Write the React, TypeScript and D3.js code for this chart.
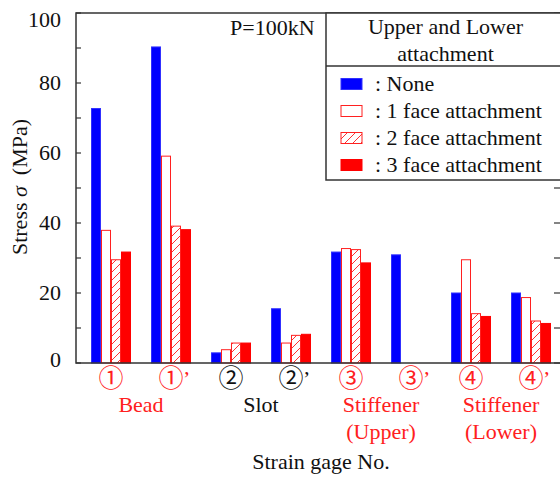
import React, { useEffect, useRef } from "react";
import * as d3 from "d3";

// strain gage positions (x axis)
const gages = ["1", "1p", "2", "2p", "3", "3p", "4", "4p"];
const gageMarks = ["①", "①", "②", "②", "③", "③", "④", "④"];
const gagePrime = [false, true, false, true, false, true, false, true];
const gageRed = [true, true, false, false, true, true, true, true];

// series values (MPa), null = not measured
const seriesNames = [": None", ": 1 face attachment", ": 2 face attachment", ": 3 face attachment"];
const noneVals = [72.7, 90.3, 2.9, 15.5, 31.7, 30.9, 20.0, 20.0];
const face1Vals = [37.9, 59.1, 3.8, 5.7, 32.7, null, 29.5, 18.7];
const face2Vals = [29.5, 39.1, 5.7, 7.9, 32.4, null, 14.1, 12.0];
const face3Vals = [31.7, 38.1, 5.7, 8.2, 28.6, null, 13.3, 11.3];

// group names under the gage numbers
const groupNames = [["Bead"], ["Slot"], ["Stiffener", "(Upper)"], ["Stiffener", "(Lower)"]];
const groupRed = [true, false, true, true];

const yTicks = [0, 20, 40, 60, 80, 100];
const yMinor = [10, 30, 50, 70, 90];

const W = 560;
const H = 478;
const FONT = "Liberation Serif";
const FS = 22;

function Chart() {
  const ref = useRef<SVGSVGElement>(null);

  useEffect(() => {
    const svg = d3.select(ref.current);
    svg.selectAll("*").remove();
    svg.style("font-family", FONT);

    const left = 76, right = 561, top = 13, bottom = 363;

    const y = d3.scaleLinear().domain([0, 100]).range([bottom, 13]);
    const x = d3.scaleBand<string>().domain(gages).range([81, 561])
      .paddingInner(1 / 3).paddingOuter(1 / 6);
    const xs = d3.scaleBand<number>().domain([0, 1, 2, 3]).range([0, x.bandwidth()]);

    // hatch pattern
    const defs = svg.append("defs");
    const pat = defs.append("pattern")
      .attr("id", "hatch")
      .attr("patternUnits", "userSpaceOnUse")
      .attr("width", 8).attr("height", 8);
    pat.append("rect").attr("width", 8).attr("height", 8).attr("fill", "white");
    pat.append("path")
      .attr("d", "M-2,2 L2,-2 M0,8 L8,0 M6,10 L10,6")
      .attr("stroke", "#ff3030").attr("stroke-width", 1);

    const styles = [
      { fill: "#0000ff", stroke: "#3030ff" },
      { fill: "#ffffff", stroke: "#ff2020" },
      { fill: "url(#hatch)", stroke: "#ff2020" },
      { fill: "#ff0000", stroke: "#ff0000" },
    ];
    const allSeries = [noneVals, face1Vals, face2Vals, face3Vals];

    // bars
    allSeries.forEach((vals, si) => {
      svg.append("g")
        .selectAll("rect")
        .data(vals.map((v, i) => ({ g: gages[i], v })).filter(d => d.v !== null))
        .enter()
        .append("rect")
        .attr("x", d => (x(d.g) as number) + (xs(si) as number) + 0.5)
        .attr("y", d => y(d.v as number))
        .attr("width", xs.bandwidth() - 1)
        .attr("height", d => bottom - y(d.v as number))
        .attr("fill", styles[si].fill)
        .attr("stroke", styles[si].stroke)
        .attr("stroke-width", 1);
    });

    // frame
    const axisColor = "#333";
    svg.append("rect")
      .attr("x", left).attr("y", top)
      .attr("width", right - left).attr("height", bottom - top)
      .attr("fill", "none").attr("stroke", axisColor).attr("stroke-width", 1.5);

    // ticks, inward on both sides
    const tickG = svg.append("g").attr("stroke", axisColor).attr("stroke-width", 1.2);
    [...yTicks, ...yMinor].forEach(t => {
      tickG.append("line").attr("x1", left).attr("x2", left + 5).attr("y1", y(t)).attr("y2", y(t));
      tickG.append("line").attr("x1", right - 7).attr("x2", right).attr("y1", y(t)).attr("y2", y(t));
    });

    svg.append("g")
      .selectAll("text")
      .data(yTicks)
      .enter()
      .append("text")
      .attr("x", 61)
      .attr("y", d => y(d) + (d === 100 ? 14 : d === 0 ? 4 : 7))
      .attr("text-anchor", "end")
      .attr("font-size", FS)
      .attr("fill", "#111")
      .text(d => d);

    // y axis title
    const yt = svg.append("text")
      .attr("transform", "translate(27,187) rotate(-90)")
      .attr("text-anchor", "middle")
      .attr("font-size", FS)
      .attr("fill", "#111");
    yt.append("tspan").text("Stress ");
    yt.append("tspan").attr("font-style", "italic").text("σ");
    yt.append("tspan").text("\u00a0\u00a0(MPa)");

    // P label
    svg.append("text")
      .attr("x", 230).attr("y", 35)
      .attr("font-size", FS).attr("fill", "#111")
      .text("P=100kN");

    // legend box
    const lx = 326;
    svg.append("rect")
      .attr("x", lx).attr("y", top).attr("width", right - lx).attr("height", 180 - top)
      .attr("fill", "white").attr("stroke", axisColor).attr("stroke-width", 1.5);
    svg.append("line")
      .attr("x1", lx).attr("x2", right).attr("y1", 66).attr("y2", 66)
      .attr("stroke", axisColor).attr("stroke-width", 1.5);
    const lcx = (lx + 561) / 2 + 2;
    svg.append("text").attr("x", lcx).attr("y", 34).attr("text-anchor", "middle")
      .attr("font-size", FS).attr("fill", "#111")
      .text("Upper and Lower");
    svg.append("text").attr("x", lcx).attr("y", 61).attr("text-anchor", "middle")
      .attr("font-size", FS).attr("fill", "#111")
      .text("attachment");

    const ly = d3.scalePoint<number>().domain([0, 1, 2, 3]).range([84, 165]);
    seriesNames.forEach((name, i) => {
      svg.append("rect")
        .attr("x", 341).attr("y", (ly(i) as number) - 5.5)
        .attr("width", 21).attr("height", 11)
        .attr("fill", styles[i].fill).attr("stroke", styles[i].stroke).attr("stroke-width", 1);
      svg.append("text")
        .attr("x", 375).attr("y", (ly(i) as number) + 7)
        .attr("font-size", FS).attr("fill", "#111")
        .text(name);
    });

    // x labels: circled gage numbers
    gages.forEach((g, i) => {
      const cx = (x(g) as number) + x.bandwidth() / 2;
      const col = gageRed[i] ? "#ff2020" : "#111";
      svg.append("text")
        .attr("x", cx).attr("y", 387)
        .attr("text-anchor", "middle")
        .style("font-family", "Noto Sans CJK JP")
        .attr("font-size", 25)
        .attr("fill", col)
        .text(gageMarks[i]);
      if (gagePrime[i]) {
        svg.append("text")
          .attr("x", cx + 12).attr("y", 386)
          .attr("font-size", FS).attr("fill", col)
          .text("’");
      }
    });

    // group names, centred between pairs of gages
    groupNames.forEach((lines, gi) => {
      const a = (x(gages[gi * 2]) as number) + x.bandwidth() / 2;
      const b = (x(gages[gi * 2 + 1]) as number) + x.bandwidth() / 2;
      lines.forEach((t, li) => {
        svg.append("text")
          .attr("x", (a + b) / 2).attr("y", 412 + li * 27)
          .attr("text-anchor", "middle")
          .attr("font-size", FS)
          .attr("fill", groupRed[gi] ? "#ff2020" : "#111")
          .text(t);
      });
    });

    svg.append("text")
      .attr("x", 321).attr("y", 469)
      .attr("text-anchor", "middle")
      .attr("font-size", FS).attr("fill", "#111")
      .text("Strain gage No.");
  }, []);

  return <svg ref={ref} width={W} height={H} style={{ display: "block" }} />;
}

export default function App() {
  return (
    <div style={{ position: "absolute", left: 0, top: 0, width: W, height: H, background: "white", overflow: "hidden" }}>
      <Chart />
    </div>
  );
}
